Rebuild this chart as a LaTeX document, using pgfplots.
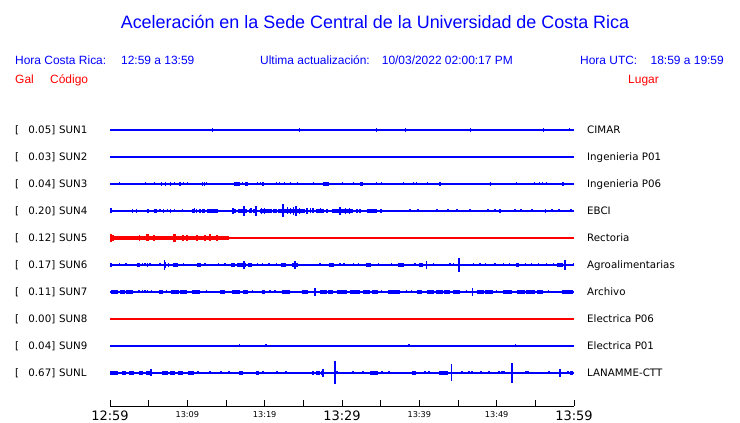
\documentclass[border=0pt]{standalone}
\usepackage{fontspec}
\setmainfont{Liberation Sans}
\newfontfamily\dejavu{DejaVu Sans}
\usepackage{pgfplots}
\pgfplotsset{compat=1.18}
\definecolor{cblue}{RGB}{0,0,255}
\definecolor{cred}{RGB}{255,0,0}
\pgfplotsset{
  spk/.style={draw=none, no markers,
    error bars/.cd, y dir=both, y explicit, error mark=none,
    error bar style={draw=#1, line width=1.1bp, line cap=butt}},
  blb/.style n args={2}{draw=none, no markers,
    error bars/.cd, x dir=both, x explicit, error mark=none,
    error bar style={draw=#1, line width=#2, line cap=butt}},
}
\begin{document}
\begin{tikzpicture}
\useasboundingbox (0,0) rectangle (740bp,423bp);
\begin{axis}[
  at={(110bp,17bp)}, anchor=south west, scale only axis,
  width=464bp, height=291bp,
  xmin=0, xmax=60, ymin=-406, ymax=-115,
  axis x line*=bottom, axis y line=none,
  axis line style={black, line width=1bp},
  xtick={0,10,...,60}, minor xtick={5,15,...,55},
  tick align=inside, major tick length=6bp, minor tick length=6bp,
  every tick/.style={black, line width=1bp},
  xticklabels={{\fontsize{13}{13}\selectfont 12:59},
               {\raisebox{3bp}{\fontsize{8.2}{8}\selectfont 13:09}},
               {\raisebox{3bp}{\fontsize{8.2}{8}\selectfont 13:19}},
               {\fontsize{13}{13}\selectfont 13:29},
               {\raisebox{3bp}{\fontsize{8.2}{8}\selectfont 13:39}},
               {\raisebox{3bp}{\fontsize{8.2}{8}\selectfont 13:49}},
               {\fontsize{13}{13}\selectfont 13:59}},
  xticklabel style={font=\dejavu, anchor=base, inner sep=0pt, yshift=-14bp},
  clip=false,
]
% baselines
\addplot[cblue, line width=1.2bp] coordinates {(0,-130) (60,-130)};
\addplot[cblue, line width=1.2bp] coordinates {(0,-157) (60,-157)};
\addplot[cblue, line width=1.2bp] coordinates {(0,-184) (60,-184)};
\addplot[cblue, line width=1.2bp] coordinates {(0,-211) (60,-211)};
\addplot[cred,  line width=1.2bp] coordinates {(0,-238) (60,-238)};
\addplot[cblue, line width=1.2bp] coordinates {(0,-265) (60,-265)};
\addplot[cblue, line width=1.2bp] coordinates {(0,-292) (60,-292)};
\addplot[cred,  line width=1.2bp] coordinates {(0,-319) (60,-319)};
\addplot[cblue, line width=1.2bp] coordinates {(0,-346) (60,-346)};
\addplot[cblue, line width=1.2bp] coordinates {(0,-373) (60,-373)};
% SUN1
\addplot[spk=cblue] table[x=t,y=y,y error=a] {
t y a
7.54 -130 1.2
10.25 -130 1.2
13.23 -130 2
24.48 -130 2
34.44 -130 2
38.18 -130 2
38.83 -130 1.2
46.00 -130 1.2
46.59 -130 2
56.03 -130 2
59.39 -130 1.5
};
% SUN3
\addplot[spk=cblue] table[x=t,y=y,y error=a] {
t y a
1.21 -184 1.5
4.57 -184 1.5
5.73 -184 1.5
6.64 -184 1.8
7.15 -184 1.8
7.80 -184 1.8
8.32 -184 1.5
8.96 -184 2
9.09 -184 2
9.53 -184 1.5
10.00 -184 1.5
11.94 -184 1.8
12.19 -184 1.8
12.45 -184 1.5
16.07 -184 2
16.20 -184 2
16.33 -184 2
16.46 -184 2
16.59 -184 2
16.72 -184 2
17.16 -184 1.5
17.50 -184 2
17.63 -184 2
17.76 -184 2
19.05 -184 1.5
19.44 -184 1.5
19.70 -184 2
19.82 -184 2
21.50 -184 1.5
21.89 -184 1.5
22.54 -184 1.5
23.31 -184 1.5
24.22 -184 1.5
26.29 -184 1.5
27.58 -184 2
27.71 -184 2
27.84 -184 2
27.97 -184 2
28.10 -184 2
28.23 -184 2
30.04 -184 1.5
31.46 -184 1.5
32.46 -184 2.2
32.59 -184 2.2
34.44 -184 1.5
35.08 -184 1.5
35.86 -184 1.2
37.93 -184 1.5
39.22 -184 1.5
39.61 -184 1.5
41.03 -184 1.5
42.58 -184 2.2
42.71 -184 2.2
49.18 -184 1.8
52.54 -184 1.5
54.87 -184 1.5
55.51 -184 1.5
55.90 -184 1.5
56.42 -184 1.5
58.49 -184 2.2
58.62 -184 2.2
};
% SUN4
\addplot[spk=cblue] table[x=t,y=y,y error=a] {
t y a
0.13 -211 2.5
2.88 -211 2
3.40 -211 2
5.82 -211 2
6.04 -211 2
6.47 -211 1.5
6.89 -211 2
7.46 -211 1.5
7.80 -211 2
8.37 -211 1.5
9.40 -211 1.5
10.64 -211 2
10.77 -211 2
10.90 -211 2.5
11.21 -211 2
11.64 -211 2
15.90 -211 3
17.33 -211 5
18.23 -211 2.5
18.88 -211 5
19.60 -211 3
20.00 -211 3
21.21 -211 2
21.47 -211 2
22.37 -211 6.5
22.90 -211 3.5
23.30 -211 3
23.70 -211 4
24.05 -211 5
24.50 -211 3
25.47 -211 3
25.90 -211 2.5
26.25 -211 2.5
26.77 -211 2
27.20 -211 2.5
27.54 -211 2
28.06 -211 2
29.74 -211 4
30.50 -211 3
31.00 -211 3
31.94 -211 2
32.33 -211 2
35.04 -211 2
38.79 -211 1.5
39.83 -211 1.5
42.28 -211 1.5
43.71 -211 1.5
44.87 -211 1.5
46.55 -211 1.5
48.88 -211 1.5
49.79 -211 1.5
50.43 -211 2
52.37 -211 1.5
53.15 -211 1.5
54.57 -211 1.5
57.16 -211 1.5
58.06 -211 1.5
59.61 -211 1.5
};
\addplot[blb={cblue}{4bp}] table[x=t,y=y,x error=w] {
t y w
4.94 -211 0.10
12.07 -211 0.21
13.29 -211 0.71
16.10 -211 0.20
17.13 -211 0.58
18.10 -211 0.13
18.75 -211 0.26
20.17 -211 0.78
23.47 -211 1.75
27.15 -211 0.38
30.06 -211 1.35
33.88 -211 0.65
56.31 -211 0.07
};
% SUN5
\addplot[blb={cred}{4bp}] table[x=t,y=y,x error=w] {
t y w
7.695 -238 7.695
};
\addplot[spk=cred] table[x=t,y=y,y error=a] {
t y a
0.13 -238 4
0.39 -238 3
3.79 -238 3
4.78 -238 3.5
4.91 -238 3.5
5.69 -238 3
8.21 -238 4
8.34 -238 4
8.47 -238 4
9.44 -238 3
9.96 -238 3
11.25 -238 3
12.28 -238 3
12.93 -238 3.5
13.84 -238 3
};
% SUN6
\addplot[spk=cblue] table[x=t,y=y,y error=a] {
t y a
0.13 -265 2
1.20 -265 1.5
2.07 -265 1.5
3.53 -265 2
3.79 -265 2
4.18 -265 1.5
4.53 -265 1.5
4.87 -265 2
5.17 -265 1.5
6.47 -265 1.5
7.02 -265 5
7.20 -265 3
7.54 -265 2
9.48 -265 1.5
11.34 -265 2
11.64 -265 2
12.28 -265 1.5
14.00 -265 1.5
14.87 -265 1.5
15.74 -265 2
16.07 -265 2
16.51 -265 2
16.81 -265 2
17.03 -265 2
17.33 -265 4
17.55 -265 2
17.88 -265 2
18.32 -265 2
19.10 -265 1.5
19.69 -265 1.5
20.56 -265 1.5
21.56 -265 1.5
22.20 -265 2
22.63 -265 2
23.62 -265 2
23.92 -265 4
24.22 -265 2
27.16 -265 1.5
28.45 -265 2
28.88 -265 2
29.74 -265 1.5
30.26 -265 1.5
31.46 -265 1.5
32.11 -265 1.5
33.19 -265 2
33.62 -265 2
34.69 -265 1.5
36.43 -265 1.5
37.28 -265 2
37.93 -265 2
39.44 -265 1.5
40.09 -265 2
40.43 -265 2
40.95 -265 4
41.81 -265 1.5
43.97 -265 1.5
44.39 -265 1.5
45.13 -265 7
46.98 -265 1.5
47.84 -265 1.5
48.58 -265 1.5
49.78 -265 1.5
50.86 -265 1.5
51.63 -265 1.5
52.59 -265 2
52.80 -265 2
53.75 -265 1.5
54.53 -265 1.5
55.38 -265 1.5
56.47 -265 1.5
57.32 -265 1.5
58.84 -265 5
59.91 -265 1.5
};
\addplot[blb={cblue}{3.5bp}] table[x=t,y=y,x error=w] {
t y w
3.66 -265 0.13
8.47 -265 0.36
11.49 -265 0.15
15.90 -265 0.17
16.66 -265 0.15
17.29 -265 0.26
18.10 -265 0.22
22.42 -265 0.22
23.92 -265 0.30
28.67 -265 0.22
33.41 -265 0.22
37.61 -265 0.33
40.26 -265 0.17
52.70 -265 0.10
58.19 -265 0.43
};
% SUN7
\addplot[spk=cblue] table[x=t,y=y,y error=a] {
t y a
3.75 -292 1.5
4.18 -292 1.5
4.53 -292 1.5
4.87 -292 1.5
5.39 -292 1.5
7.33 -292 1.5
12.50 -292 1.5
18.40 -292 1.5
20.69 -292 1.5
21.34 -292 1.5
26.51 -292 4
35.13 -292 1.5
38.37 -292 1.5
39.01 -292 1.5
46.12 -292 1.5
46.85 -292 4
50.00 -292 1.5
56.68 -292 1.5
};
\addplot[blb={cblue}{3.5bp}] table[x=t,y=y,x error=w] {
t y w
0.58 -292 0.45
1.62 -292 0.33
2.52 -292 0.45
6.63 -292 0.26
8.40 -292 0.50
9.50 -292 0.45
11.10 -292 0.54
14.55 -292 0.33
16.31 -292 0.50
17.56 -292 0.32
19.83 -292 0.21
22.74 -292 0.54
25.22 -292 0.43
27.60 -292 0.40
28.50 -292 0.35
29.96 -292 0.65
31.68 -292 0.65
33.20 -292 0.45
34.30 -292 0.40
36.75 -292 0.75
39.98 -292 0.32
41.40 -292 0.45
42.60 -292 0.50
43.60 -292 0.35
44.83 -292 0.43
47.90 -292 0.45
49.00 -292 0.50
51.40 -292 0.54
53.10 -292 0.50
54.40 -292 0.60
55.60 -292 0.40
59.16 -292 0.75
};
% SUN9
\addplot[spk=cblue] table[x=t,y=y,y error=a] {
t y a
16.76 -346 1.5
20.17 -346 1.5
29.70 -346 1.2
37.69 -346 1.2
38.66 -346 1.5
52.43 -346 1.5
57.61 -346 1.2
};
% SUNL
\addplot[spk=cblue] table[x=t,y=y,y error=a] {
t y a
5.30 -373 3.5
11.38 -373 1.5
12.93 -373 1.5
14.35 -373 1.5
15.39 -373 1.5
19.78 -373 1.5
21.59 -373 1.5
22.76 -373 1.5
26.25 -373 2
27.54 -373 4
29.09 -373 11.5
29.35 -373 1.5
31.42 -373 1.5
32.72 -373 1.5
35.17 -373 1.5
36.08 -373 1.5
40.73 -373 1.5
41.25 -373 1.5
44.19 -373 8.5
45.52 -373 1.5
46.42 -373 1.5
46.81 -373 1.5
47.97 -373 1.5
49.01 -373 1.5
50.30 -373 1.5
50.69 -373 1.5
50.95 -373 1.5
51.98 -373 10
53.79 -373 1.5
54.05 -373 1.5
56.77 -373 1.5
58.12 -373 4
58.25 -373 4
59.22 -373 1.5
};
\addplot[blb={cblue}{4bp}] table[x=t,y=y,x error=w] {
t y w
0.52 -373 0.50
1.81 -373 0.26
2.78 -373 0.32
4.01 -373 0.26
4.98 -373 0.32
7.11 -373 0.39
8.08 -373 0.32
9.11 -373 0.32
10.47 -373 0.39
16.94 -373 0.26
19.07 -373 0.20
26.90 -373 0.25
27.50 -373 0.20
34.14 -373 0.52
39.31 -373 0.26
43.13 -373 0.58
59.68 -373 0.20
};
\end{axis}
% header texts
\node[anchor=base, text=cblue, font=\fontsize{18}{18}\selectfont, inner sep=0pt] at (375bp,394bp) {Aceleración en la Sede Central de la Universidad de Costa Rica};
\begin{scope}[every node/.style={inner sep=0pt, font=\fontsize{12}{12}\selectfont}]
\node[anchor=base west, text=cblue] at (15bp,358.5bp) {Hora Costa Rica:};
\node[anchor=base west, text=cblue] at (121bp,358.5bp) {12:59 a 13:59};
\node[anchor=base west, text=cblue] at (260bp,358.5bp) {Ultima actualización:};
\node[anchor=base east, text=cblue] at (513bp,358.5bp) {10/03/2022 02:00:17 PM};
\node[anchor=base west, text=cblue] at (580bp,358.5bp) {Hora UTC:};
\node[anchor=base east, text=cblue] at (724bp,358.5bp) {18:59 a 19:59};
\node[anchor=base west, text=cred] at (15bp,339bp) {Gal};
\node[anchor=base west, text=cred] at (50bp,339bp) {Código};
\node[anchor=base west, text=cred] at (628bp,339bp) {Lugar};
\end{scope}
\begin{scope}[every node/.style={inner sep=0pt, font=\dejavu\fontsize{10.3}{12}\selectfont}]
\foreach \i/\v/\c/\n in {0/0.05/SUN1/CIMAR,1/0.03/SUN2/Ingenieria P01,2/0.04/SUN3/Ingenieria P06,3/0.20/SUN4/EBCI,4/0.12/SUN5/Rectoria,5/0.17/SUN6/Agroalimentarias,6/0.11/SUN7/Archivo,7/0.00/SUN8/Electrica P06,8/0.04/SUN9/Electrica P01,9/0.67/SUNL/LANAMME-CTT}{
  \pgfmathsetmacro\yy{289-27*\i}
  \node[anchor=base west] at (15bp,\yy bp) {[};
  \node[anchor=base east] at (55.5bp,\yy bp) {\v]};
  \node[anchor=base west] at (59bp,\yy bp) {\c};
  \node[anchor=base west] at (587bp,\yy bp) {\n};
}
\end{scope}
\end{tikzpicture}
\end{document}
